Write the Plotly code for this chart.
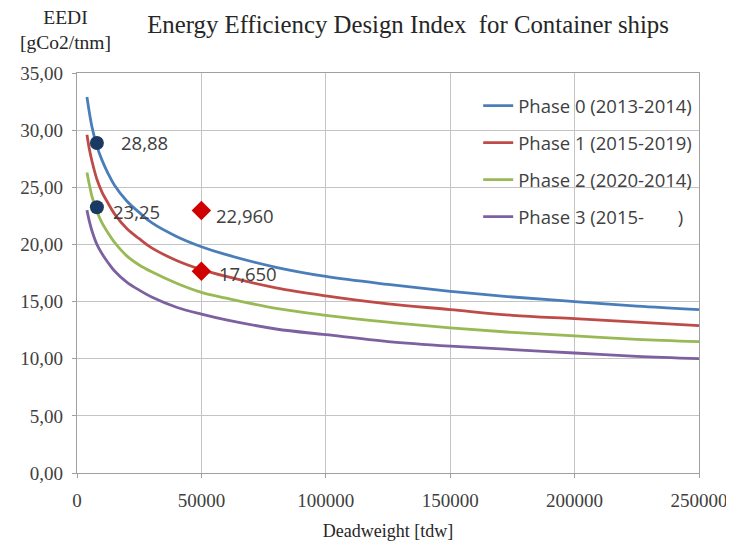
import plotly.graph_objects as go

# Deadweight (tdw) sample points
dwt = [4000, 5000, 6000, 8000, 10000, 12500, 15000, 20000, 25000, 30000, 40000, 50000,
       60000, 80000, 100000, 125000, 150000, 175000, 200000, 225000, 250000]

phase0 = [32.9, 31.5, 30.3, 28.6, 27.4, 26.2, 25.2, 23.8, 22.8, 21.9, 20.7, 19.8,
          19.1, 18.0, 17.2, 16.5, 15.9, 15.4, 15.0, 14.6, 14.3]
phase1 = [29.6, 28.3, 27.3, 25.7, 24.6, 23.6, 22.7, 21.4, 20.5, 19.7, 18.6, 17.8,
          17.2, 16.2, 15.5, 14.8, 14.3, 13.8, 13.5, 13.2, 12.9]
phase2 = [26.3, 25.2, 24.2, 22.9, 21.9, 21.0, 20.2, 19.0, 18.2, 17.6, 16.6, 15.8,
          15.3, 14.4, 13.8, 13.2, 12.7, 12.3, 12.0, 11.7, 11.5]
phase3 = [23.0, 22.0, 21.2, 20.0, 19.2, 18.4, 17.7, 16.7, 16.0, 15.4, 14.5, 13.9,
          13.4, 12.6, 12.1, 11.5, 11.1, 10.8, 10.5, 10.2, 10.0]

series_names = ["Phase 0 (2013-2014)", "Phase 1 (2015-2019)",
                "Phase 2 (2020-2014)", "Phase 3 (2015-       )"]
series_colors = ["#4A7EBB", "#BE4B48", "#98B954", "#7D60A0"]

circle_x = [8000, 8000]
circle_y = [28.88, 23.25]
circle_labels = ["28,88", "23,25"]

diamond_x = [50000, 50000]
diamond_y = [22.96, 17.65]
diamond_labels = ["22,960", "17,650"]

y_ticks = [0, 5, 10, 15, 20, 25, 30, 35]
x_ticks = [0, 50000, 100000, 150000, 200000, 250000]

fig = go.Figure()
for i, (name, vals, col) in enumerate(zip(series_names, [phase0, phase1, phase2, phase3], series_colors)):
    fig.add_trace(go.Scatter(
        x=dwt, y=vals, mode="lines", name=name, legendgroup=f"g{i}",
        line=dict(color=col, width=2.8, shape="spline", smoothing=1.0),
    ))

fig.add_trace(go.Scatter(
    x=circle_x, y=circle_y, mode="markers", showlegend=False,
    marker=dict(symbol="circle", size=14, color="#1B3A63"),
))
fig.add_trace(go.Scatter(
    x=diamond_x, y=diamond_y, mode="markers", showlegend=False,
    marker=dict(symbol="diamond", size=15, color="#D00000"),
))

label_font = dict(family="Open Sans", size=18.5, color="#404040")
shifts = [(22, 0), (14, -4)]
for xv, yv, t, (dx, dy) in zip(circle_x, circle_y, circle_labels, shifts):
    fig.add_annotation(x=xv, y=yv, text=t, showarrow=False, xanchor="left",
                       xshift=dx, yshift=dy, font=label_font)
shifts = [(13, -5), (16, -2)]
for xv, yv, t, (dx, dy) in zip(diamond_x, diamond_y, diamond_labels, shifts):
    fig.add_annotation(x=xv, y=yv, text=t, showarrow=False, xanchor="left",
                       xshift=dx, yshift=dy, font=label_font)

serif = "Liberation Serif"
fig.add_annotation(xref="paper", yref="paper", x=-0.019, y=1.108, xanchor="center",
                   yanchor="middle", showarrow=False, align="center",
                   text="EEDI<br>[gCo2/tnm]",
                   font=dict(family=serif, size=19.5, color="#262626"))

fig.update_layout(
    width=734, height=541,
    margin=dict(l=69, r=43, t=65, b=76, autoexpand=False),
    paper_bgcolor="white", plot_bgcolor="white",
    separators=",.",
    title=dict(text="Energy Efficiency Design Index  for Container ships",
               x=0.545, xanchor="center", y=0.969, yanchor="middle",
               font=dict(family=serif, size=24.8, color="#262626")),
    showlegend=True,
    legend=dict(x=0.645, y=0.965, xanchor="left", yanchor="top",
                bgcolor="rgba(0,0,0,0)", tracegroupgap=10,
                font=dict(family="Open Sans", size=18.5, color="#404040")),
    xaxis=dict(range=[0, 250000], tickvals=x_ticks, tickformat="d",
               showgrid=True, gridcolor="#C4C4C4", gridwidth=1.3,
               showline=True, linecolor="#A0A0A0", linewidth=1.3, mirror=True,
               ticks="outside", ticklen=4, tickcolor="#A0A0A0",
               ticklabelstandoff=6, automargin=False,
               tickfont=dict(family=serif, size=19, color="#404040"),
               zeroline=False,
               title=dict(text="Deadweight [tdw]", standoff=14,
                          font=dict(family=serif, size=18, color="#262626"))),
    yaxis=dict(range=[0, 35], tickvals=y_ticks, tickformat=".2f",
               showgrid=True, gridcolor="#C4C4C4", gridwidth=1.3,
               showline=True, linecolor="#A0A0A0", linewidth=1.3, mirror=True,
               ticks="outside", ticklen=4, tickcolor="#A0A0A0",
               ticklabelstandoff=5, automargin=False,
               tickfont=dict(family=serif, size=19, color="#404040"),
               zeroline=False),
)

fig.write_html("out.html")
